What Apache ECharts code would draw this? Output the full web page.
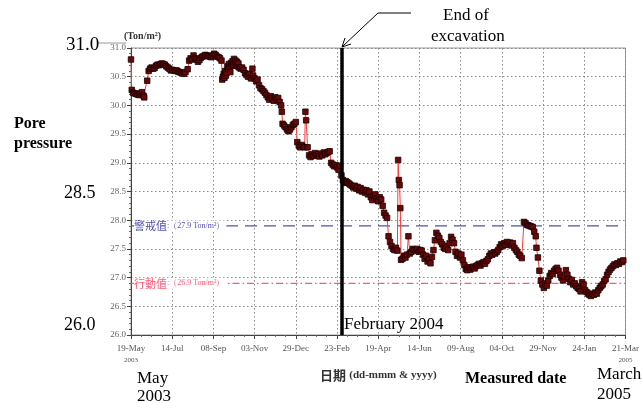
<!DOCTYPE html>
<html><head><meta charset="utf-8">
<script src="https://cdn.jsdelivr.net/npm/echarts@6/dist/echarts.min.js"></script>
<style>html,body{margin:0;padding:0;background:#fff}#c{width:642px;height:403px}</style>
</head><body><div id="c"></div>
<script>
// x values = days since 19-May-2003
const tickLabels = ['19-May','14-Jul','08-Sep','03-Nov','29-Dec','23-Feb','19-Apr','14-Jun','09-Aug','04-Oct','29-Nov','24-Jan','21-Mar'];
const tickYears = {0:'2003', 12:'2005'};
const excavationEndDay = 286;
const warningValue = 27.9;
const actionValue = 26.9;
const readings = [
[0,30.80],[1,30.27],[3,30.22],[5,30.21],[7,30.20],[9,30.19],[11,30.18],[13,30.21],[15,30.23],[17,30.17],
[18,30.14],[22,30.43],[24,30.60],[26,30.64],[28,30.66],[30,30.64],[32,30.65],[34,30.69],[36,30.71],[38,30.70],
[40,30.72],[42,30.73],[44,30.72],[46,30.71],[48,30.68],[50,30.66],[52,30.64],[54,30.61],[56,30.62],[58,30.61],
[60,30.60],[62,30.61],[64,30.59],[66,30.58],[68,30.57],[70,30.56],[72,30.55],[74,30.58],[77,30.63],[79,30.78],
[81,30.82],[83,30.80],[85,30.87],[87,30.82],[89,30.80],[91,30.76],[93,30.79],[95,30.83],[97,30.85],[99,30.86],
[101,30.88],[103,30.87],[105,30.86],[107,30.85],[109,30.84],[111,30.87],[113,30.90],[115,30.88],[117,30.85],[119,30.84],
[121,30.82],[123,30.78],[124,30.45],[125,30.50],[126,30.55],[127,30.48],[128,30.60],[129,30.52],[130,30.57],[131,30.68],
[132,30.63],[133,30.72],[134,30.66],[135,30.58],[136,30.74],[137,30.69],[138,30.77],[139,30.71],[140,30.81],[141,30.75],
[142,30.78],[143,30.70],[144,30.76],[145,30.68],[146,30.73],[147,30.66],[149,30.64],[151,30.66],[153,30.62],[155,30.56],
[157,30.53],[159,30.50],[161,30.55],[163,30.47],[165,30.64],[166,30.52],[168,30.47],[170,30.42],[172,30.45],[174,30.35],
[176,30.30],[178,30.28],[180,30.25],[182,30.22],[184,30.18],[186,30.14],[188,30.10],[190,30.16],[192,30.12],[194,30.08],
[196,30.14],[198,30.10],[200,30.13],[202,30.06],[204,30.00],[205,29.89],[206,29.68],[208,29.65],[210,29.62],[212,29.58],
[214,29.55],[216,29.58],[218,29.62],[220,29.66],[222,29.68],[224,29.71],[226,29.36],[228,29.30],[230,29.27],[232,29.31],
[234,29.28],[236,29.27],[237,29.89],[238,29.74],[240,29.27],[242,29.13],[244,29.10],[246,29.15],[248,29.12],[250,29.17],
[252,29.13],[254,29.15],[256,29.11],[258,29.16],[260,29.13],[262,29.18],[264,29.15],[266,29.17],[268,29.19],[270,29.20],
[272,29.00],[274,28.97],[276,28.94],[278,28.96],[280,28.92],[282,28.88],[284,28.95],[286,28.78],[288,28.70],[290,28.65],
[292,28.68],[294,28.66],[296,28.64],[298,28.62],[300,28.60],[302,28.57],[304,28.60],[306,28.55],[308,28.58],[310,28.52],
[312,28.56],[314,28.50],[316,28.53],[318,28.48],[320,28.52],[322,28.45],[324,28.50],[326,28.40],[328,28.35],[330,28.42],
[332,28.45],[334,28.38],[336,28.33],[338,28.40],[340,28.36],[342,28.25],[344,28.13],[346,28.08],[348,28.04],[350,27.72],
[352,27.62],[354,27.55],[356,27.50],[358,27.48],[360,27.52],[362,27.47],[363,29.05],[364,28.70],[365,28.61],[366,28.21],
[367,27.31],[369,27.33],[371,27.38],[373,27.35],[375,27.40],[377,27.72],[379,27.42],[381,27.45],[383,27.50],[385,27.48],
[387,27.47],[389,27.50],[391,27.45],[393,27.48],[395,27.47],[397,27.40],[399,27.33],[401,27.38],[403,27.28],[405,27.32],
[407,27.25],[409,27.36],[411,27.48],[413,27.65],[415,27.78],[417,27.73],[419,27.69],[421,27.62],[423,27.58],[425,27.52],
[427,27.50],[429,27.55],[431,27.48],[433,27.60],[435,27.71],[437,27.66],[439,27.60],[441,27.45],[443,27.38],[445,27.42],
[447,27.35],[449,27.40],[451,27.30],[453,27.22],[455,27.15],[457,27.13],[459,27.18],[461,27.14],[463,27.17],[465,27.19],
[467,27.16],[469,27.20],[471,27.22],[473,27.24],[475,27.21],[477,27.25],[479,27.27],[481,27.24],[483,27.29],[485,27.32],
[487,27.38],[489,27.42],[491,27.40],[493,27.44],[495,27.42],[497,27.45],[499,27.48],[501,27.53],[503,27.58],[505,27.55],
[507,27.60],[509,27.57],[511,27.62],[513,27.58],[515,27.61],[517,27.56],[519,27.60],[521,27.52],[523,27.48],[525,27.45],
[527,27.40],[529,27.38],[531,27.34],[534,27.97],[536,27.95],[538,27.92],[540,27.91],[542,27.90],[544,27.89],[546,27.88],
[548,27.80],[550,27.72],[551,27.52],[553,27.35],[555,27.12],[557,26.95],[559,26.88],[561,26.82],[563,26.90],[565,26.86],
[567,26.95],[569,27.03],[571,27.08],[573,27.06],[575,27.12],[577,27.15],[579,27.17],[581,27.12],[583,27.05],[585,27.00],
[587,26.95],[589,27.02],[591,27.13],[593,27.05],[595,26.98],[597,26.92],[599,26.96],[601,26.88],[603,26.90],[605,26.85],
[607,26.82],[609,26.80],[611,26.76],[613,26.92],[615,26.88],[617,26.78],[619,26.75],[621,26.72],[623,26.70],[625,26.68],
[627,26.72],[629,26.70],[631,26.74],[633,26.72],[635,26.78],[637,26.82],[639,26.85],[641,26.88],[643,26.94],[645,26.97],
[647,27.05],[649,27.10],[651,27.14],[653,27.17],[655,27.20],[657,27.23],[659,27.22],[661,27.25],[663,27.24],[665,27.28],
[667,27.27],[669,27.30]
];

const serif = 'Liberation Serif';
const chart = echarts.init(document.getElementById('c'), null, {renderer:'canvas'});
function thresholdSeries(v, color, dash, textMain, textRest) {
  return {
    type:'line', silent:true, z:1,
    data:[{value:[0,v], label:{show:true, position:'right', distance:3,
            backgroundColor:'#fff', padding:[0,2,0,0],
            formatter:'{a|'+textMain+'}{b|'+textRest+'}',
            rich:{a:{fontSize:11, color:color, fontFamily:'Noto Sans CJK TC'},
                  b:{fontSize:8, color:color, fontFamily:serif}}}},
          [672,v]],
    symbol:'rect', symbolSize:0, showSymbol:true,
    label:{show:false},
    lineStyle:{color:color, width:1.3, type:dash}
  };
}
chart.setOption({
  animation:false,
  grid:{left:131, right:15, top:48, bottom:68, show:true, borderColor:'#999', borderWidth:1},
  xAxis:{
    type:'value', min:0, max:672, interval:56,
    name:'{a|日期} {b|(dd-mmm & yyyy)}', nameLocation:'middle', nameGap:28,
    nameTextStyle:{rich:{a:{fontSize:13, fontWeight:'bold', color:'#333', fontFamily:'Noto Sans CJK TC'},
                         b:{fontSize:11, fontWeight:'bold', color:'#333', fontFamily:serif}}},
    axisLine:{lineStyle:{color:'#444'}},
    axisTick:{length:4, lineStyle:{color:'#444'}},
    minorTick:{show:true, splitNumber:4, length:2, lineStyle:{color:'#666'}},
    axisLabel:{fontSize:9, color:'#555', fontFamily:serif, margin:9,
      formatter:function(v){const i=Math.round(v/56); let s=tickLabels[i]||''; if(tickYears[i]) s+='\n{y|'+tickYears[i]+'}'; return s;},
      rich:{y:{fontSize:7, color:'#555', fontFamily:serif, padding:[4,0,0,0]}}},
    splitLine:{show:true, lineStyle:{color:'#888', type:[1.5,2.5], width:1}}
  },
  yAxis:{
    type:'value', min:26, max:31, interval:0.5,
    name:'(Ton/m²)', nameGap:7,
    nameTextStyle:{fontSize:10, fontWeight:'bold', color:'#333', fontFamily:serif, align:'left', padding:[0,0,0,-7]},
    axisLine:{show:true, lineStyle:{color:'#444'}},
    axisTick:{length:4, lineStyle:{color:'#444'}},
    minorTick:{show:true, splitNumber:5, length:2, lineStyle:{color:'#666'}},
    axisLabel:{fontSize:9, color:'#666', fontFamily:serif, margin:5, formatter:v=>v.toFixed(1)},
    splitLine:{show:true, lineStyle:{color:'#888', type:[1.5,2.5], width:1}}
  },
  series:[
    thresholdSeries(warningValue, '#5050b0', [12,7], '警戒值', ':（27.9 Ton/m²）'),
    thresholdSeries(actionValue, '#ff5a78', [7,3,1.5,3], '行動值', ':（26.9 Ton/m²）'),
    {
      type:'line', data:readings, z:3,
      symbol:'rect', symbolSize:5.5,
      lineStyle:{color:'#ff3a3a', width:1},
      itemStyle:{color:'#6a0808', borderColor:'#1a0000', borderWidth:0.8},
      markLine:{silent:true, symbol:'none', label:{show:false},
        lineStyle:{color:'#000', width:3.5, type:'solid'},
        data:[{xAxis:excavationEndDay}]}
    }
  ],
  graphic:[
    {type:'line', shape:{x1:97,y1:43,x2:126,y2:43}, style:{stroke:'#999', lineWidth:1}},
    {type:'text', left:66, top:36, style:{text:'31.0', font:'19px '+serif, fill:'#000'}},
    {type:'text', left:64, top:184, style:{text:'28.5', font:'18px '+serif, fill:'#000'}},
    {type:'text', left:64, top:316, style:{text:'26.0', font:'18px '+serif, fill:'#000'}},
    {type:'text', left:14, top:116, style:{text:'Pore', font:'bold 16px '+serif, fill:'#000'}},
    {type:'text', left:14, top:136, style:{text:'pressure', font:'bold 16px '+serif, fill:'#000'}},
    {type:'text', left:137, top:370, style:{text:'May', font:'17px '+serif, fill:'#000'}},
    {type:'text', left:137, top:388, style:{text:'2003', font:'17px '+serif, fill:'#000'}},
    {type:'text', left:465, top:371, style:{text:'Measured date', font:'bold 16px '+serif, fill:'#000'}},
    {type:'text', left:597, top:366, style:{text:'March', font:'17px '+serif, fill:'#000'}},
    {type:'text', left:597, top:386, style:{text:'2005', font:'17px '+serif, fill:'#000'}},
    {type:'text', left:344, top:316, style:{text:'February 2004', font:'17px '+serif, fill:'#000'}},
    {type:'text', left:443, top:7, style:{text:'End of', font:'17px '+serif, fill:'#000'}},
    {type:'text', left:431, top:28, style:{text:'excavation', font:'17px '+serif, fill:'#000'}},
    {type:'polyline', shape:{points:[[411,13],[378,13],[343,46]]}, style:{stroke:'#000', lineWidth:1, fill:null}},
    {type:'polyline', shape:{points:[[351,44],[342,47],[345,38]]}, style:{stroke:'#000', lineWidth:1, fill:null}}
  ]
});
</script></body></html>
